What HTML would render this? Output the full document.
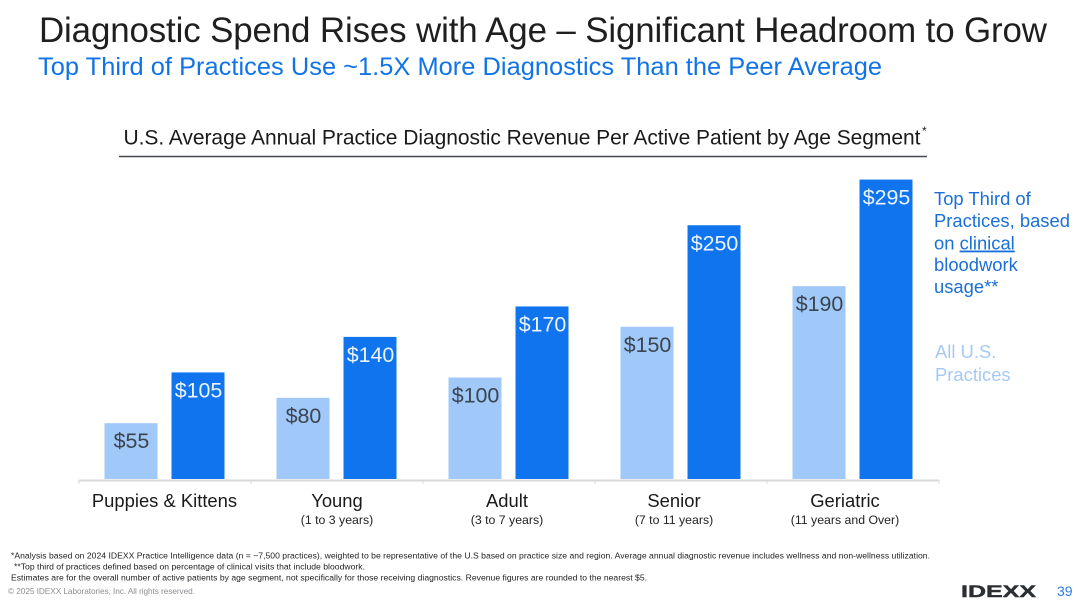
<!DOCTYPE html>
<html lang="en">
<head>
<meta charset="utf-8">
<title>Diagnostic Spend Rises with Age</title>
<style>
  html, body { margin: 0; padding: 0; background: #fff; }
  body { width: 1080px; height: 604px; overflow: hidden; }
  svg { display: block; font-family: "Liberation Sans", Arial, sans-serif; }
</style>
</head>
<body>
<svg id="slide" width="1080" height="604" viewBox="0 0 1080 604" xmlns="http://www.w3.org/2000/svg">
  <text x="39" y="42" font-size="34.9" fill="#1f1f1f" textLength="1008" lengthAdjust="spacing">Diagnostic Spend Rises with Age – Significant Headroom to Grow</text>
  <text x="38" y="75" font-size="25.4" fill="#1173e6" textLength="844" lengthAdjust="spacing">Top Third of Practices Use ~1.5X More Diagnostics Than the Peer Average</text>

  <text x="123.5" y="144.5" font-size="21" fill="#1a1a1a" textLength="797" lengthAdjust="spacing">U.S. Average Annual Practice Diagnostic Revenue Per Active Patient by Age Segment</text>
  <text x="922" y="135" font-size="12" fill="#1a1a1a">*</text>
  <line x1="119" y1="156.5" x2="927" y2="156.5" stroke="#44484c" stroke-width="1.6"/>

  <g id="bars"></g>
  <g id="axis"></g>

  <g font-size="18.4" fill="#1a6fd8">
    <text x="934" y="205">Top Third of</text>
    <text x="934" y="227">Practices, based</text>
    <text x="934" y="249.500">on <tspan text-decoration="underline">clinical</tspan></text>
    <text x="934" y="271">bloodwork</text>
    <text x="934" y="293">usage**</text>
  </g>
  <g font-size="18.4" fill="#a5c9f6">
    <text x="935" y="358">All U.S.</text>
    <text x="935" y="381">Practices</text>
  </g>

  <g font-size="8.6" fill="#222">
    <text x="11" y="558.5" textLength="919" lengthAdjust="spacing">*Analysis based on 2024 IDEXX Practice Intelligence data (n = ~7,500 practices), weighted to be representative of the U.S based on practice size and region. Average annual diagnostic revenue includes wellness and non-wellness utilization.</text>
    <text x="14" y="569.5" textLength="351" lengthAdjust="spacing">**Top third of practices defined based on percentage of clinical visits that include bloodwork.</text>
    <text x="11" y="580.5" textLength="636" lengthAdjust="spacing">Estimates are for the overall number of active patients by age segment, not specifically for those receiving diagnostics. Revenue figures are rounded to the nearest $5.</text>
  </g>
  <text x="8" y="594" font-size="8.3" fill="#8c8f93" textLength="187" lengthAdjust="spacing">© 2025 IDEXX Laboratories, Inc. All rights reserved.</text>
  <text x="961" y="597" font-size="16.500" font-weight="700" fill="#2b2f33" stroke="#2b2f33" stroke-width="0.4" textLength="75" lengthAdjust="spacingAndGlyphs">IDEXX</text>
  <text x="1057" y="596" font-size="14" fill="#2a7de1">39</text>
</svg>
<script>
const categories = ["Puppies & Kittens", "Young", "Adult", "Senior", "Geriatric"];
const subLabels = ["", "(1 to 3 years)", "(3 to 7 years)", "(7 to 11 years)", "(11 years and Over)"];
const allPractices = [55, 80, 100, 150, 190];
const topThird = [105, 140, 170, 250, 295];

const NS = "http://www.w3.org/2000/svg";
const baseY = 479;
const plotLeft = 79;
const plotRight = 939;
const bandWidth = (plotRight - plotLeft) / categories.length;
const barWidth = 53;
function xBand(i) { return plotLeft + bandWidth * (i + 0.5); }
function yScale(v) { return baseY - v * 1.015; }
function labelNudge(i) { return [-0.5, 0, -2, -7, -8][i]; }
function mk(tag, attrs, text) {
  const el = document.createElementNS(NS, tag);
  for (const k in attrs) el.setAttribute(k, attrs[k]);
  if (text !== undefined) el.textContent = text;
  return el;
}
const barsG = document.getElementById("bars");
const axisG = document.getElementById("axis");

function drawBar(v, i, cx, fill, labelFill, seriesName) {
  const top = yScale(v);
  const rect = mk("rect", { x: cx - barWidth / 2, y: top, width: barWidth, height: baseY - top, fill: fill });
  
  
  rect.setAttribute('aria-label', seriesName + ' ' + categories[i]);
  barsG.appendChild(rect);
  const label = mk("text", { x: cx + 0.5, y: top + 25, "font-size": 21.4, fill: labelFill, "text-anchor": "middle" }, "$" + v);
  
  
  barsG.appendChild(label);
}

categories.forEach(function (c, i) {
  const cx = xBand(i);
  drawBar(allPractices[i], i, cx - 34, "#a0c8f8", "#3a4550", "all-practices");
  drawBar(topThird[i], i, cx + 33, "#0f74ee", "#eaf3ff", "top-third");
  const lx = cx + labelNudge(i);
  const name = mk("text", { x: lx, y: 507, "font-size": 18.4, fill: "#1a1a1a", "text-anchor": "middle" }, c);
  
  
  axisG.appendChild(name);
  if (subLabels[i]) {
    const sub = mk("text", { x: lx, y: 524, "font-size": 12.3, fill: "#222", "text-anchor": "middle" }, subLabels[i]);
    
    
    axisG.appendChild(sub);
  }
});

const axisLine = mk("line", { x1: plotLeft, y1: 480.5, x2: plotRight, y2: 480.5, stroke: "#d9d9d9", "stroke-width": 2 });


axisG.appendChild(axisLine);
for (let i = 0; i <= categories.length; i++) {
  const tx = plotLeft + bandWidth * i;
  const tick = mk("line", { x1: tx, y1: 480, x2: tx, y2: 484, stroke: "#d9d9d9", "stroke-width": 1 });
  
  
  axisG.appendChild(tick);
}
</script>
</body>
</html>
